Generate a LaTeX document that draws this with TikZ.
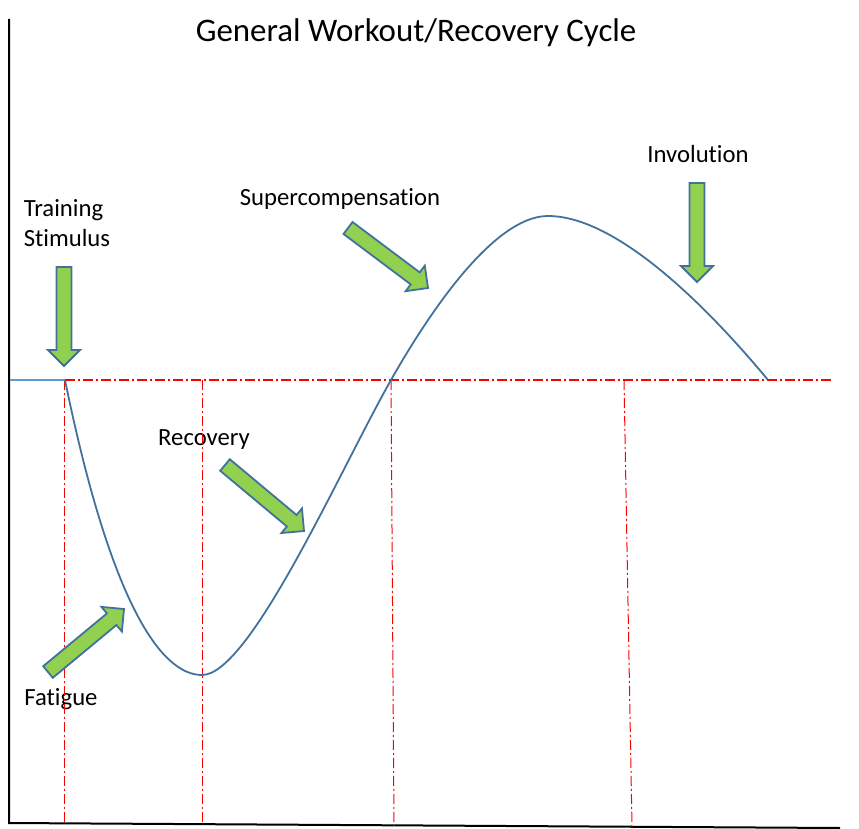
\documentclass[tikz,border=0pt]{standalone}
\usepackage{fontspec}
\setmainfont{Carlito}[Ligatures=NoCommon]
\usetikzlibrary{calc}
\definecolor{curveblue}{RGB}{65,113,156}
\definecolor{arrowgreen}{RGB}{146,208,80}
\definecolor{baseblue}{RGB}{91,155,213}

\newcommand{\greenarrow}[2]{%
  \coordinate (H) at ($(#2)!16pt!(#1)$);
  \draw[blockarrow] ($(#1)!7.5pt!90:(#2)$) -- ($(H)!7.5pt!90:(#2)$) -- ($(H)!16pt!90:(#2)$) -- (#2)
    -- ($(H)!16pt!-90:(#2)$) -- ($(H)!7.5pt!-90:(#2)$) -- ($(#1)!7.5pt!-90:(#2)$) -- cycle;
}

\begin{document}
\begin{tikzpicture}[x=1pt,y=-1pt]
            \tikzstyle{label}=[font=\fontsize{24.7}{30}\selectfont,align=left,inner sep=0pt]
            \tikzstyle{blockarrow}=[draw=curveblue,fill=arrowgreen,line width=1.8pt,line join=miter]
            \tikzstyle{guide}=[red,line width=1.2pt,dash pattern=on 10pt off 3pt on 2pt off 3pt]
            \useasboundingbox (0,0) rectangle (859,829);

                    \coordinate (O) at (9,823);
                    \coordinate (Y) at (9,19);
                    \coordinate (X) at (840,828);

                    \coordinate (P-0) at (65,380);
                    \coordinate (P-1) at (202,675);
                    \coordinate (P-2) at (391,380);
                    \coordinate (P-3) at (548,216);
                    \coordinate (P-4) at (768,380);

                    \coordinate (B-0) at (10,380);
                    \coordinate (B-1) at (832,380);

                    \coordinate (F-0) at (64,823);
                    \coordinate (F-1) at (202,824);
                    \coordinate (F-2) at (394,826);
                    \coordinate (F-3) at (632,827);
                    \coordinate (T-0) at (64,380);
                    \coordinate (T-1) at (202,380);
                    \coordinate (T-2) at (391,380);
                    \coordinate (T-3) at (624,380);

                \node[font=\fontsize{32.9}{38}\selectfont] (title) at (416,33) {General Workout/Recovery Cycle};
                \node[label] (stimulus) at (67,223) {Training\\Stimulus};
                \node[label] (fatigue) at (61,699) {Fatigue};
                \node[label] (recovery) at (204,440) {Recovery};
                \node[label] (supercomp) at (340,199) {Supercompensation};
                \node[label] (involution) at (698,154) {Involution};

                \draw[line width=2pt] (Y) -- (O) -- (X);
                \draw[baseblue,line width=1.2pt] (B-0) -- (P-0);
                \draw[guide] (P-0) -- (B-1);
                \foreach \i in {0,1,2,3}
                    \draw[guide,line width=1pt] (T-\i) -- (F-\i);

                \draw[curveblue,line width=1.8pt] (P-0) .. controls (110,600) and (160,675) .. (P-1)
                    .. controls (250,675) and (340,470) .. (P-2)
                    .. controls (425,320) and (492,216) .. (P-3)
                    .. controls (618,216) and (710,310) .. (P-4);

                    \coordinate (A-0) at (64,267);
                    \coordinate (A-1) at (64,366);
                    \coordinate (A-2) at (48,672);
                    \coordinate (A-3) at (124,609);
                    \coordinate (A-4) at (225,465);
                    \coordinate (A-5) at (304,531);
                    \coordinate (A-6) at (348,228);
                    \coordinate (A-7) at (428,288);
                    \coordinate (A-8) at (697,183);
                    \coordinate (A-9) at (697,282);

                \foreach \from/\to in {0/1, 2/3, 4/5, 6/7, 8/9}
                    {\greenarrow{A-\from}{A-\to}}
\end{tikzpicture}
\end{document}
